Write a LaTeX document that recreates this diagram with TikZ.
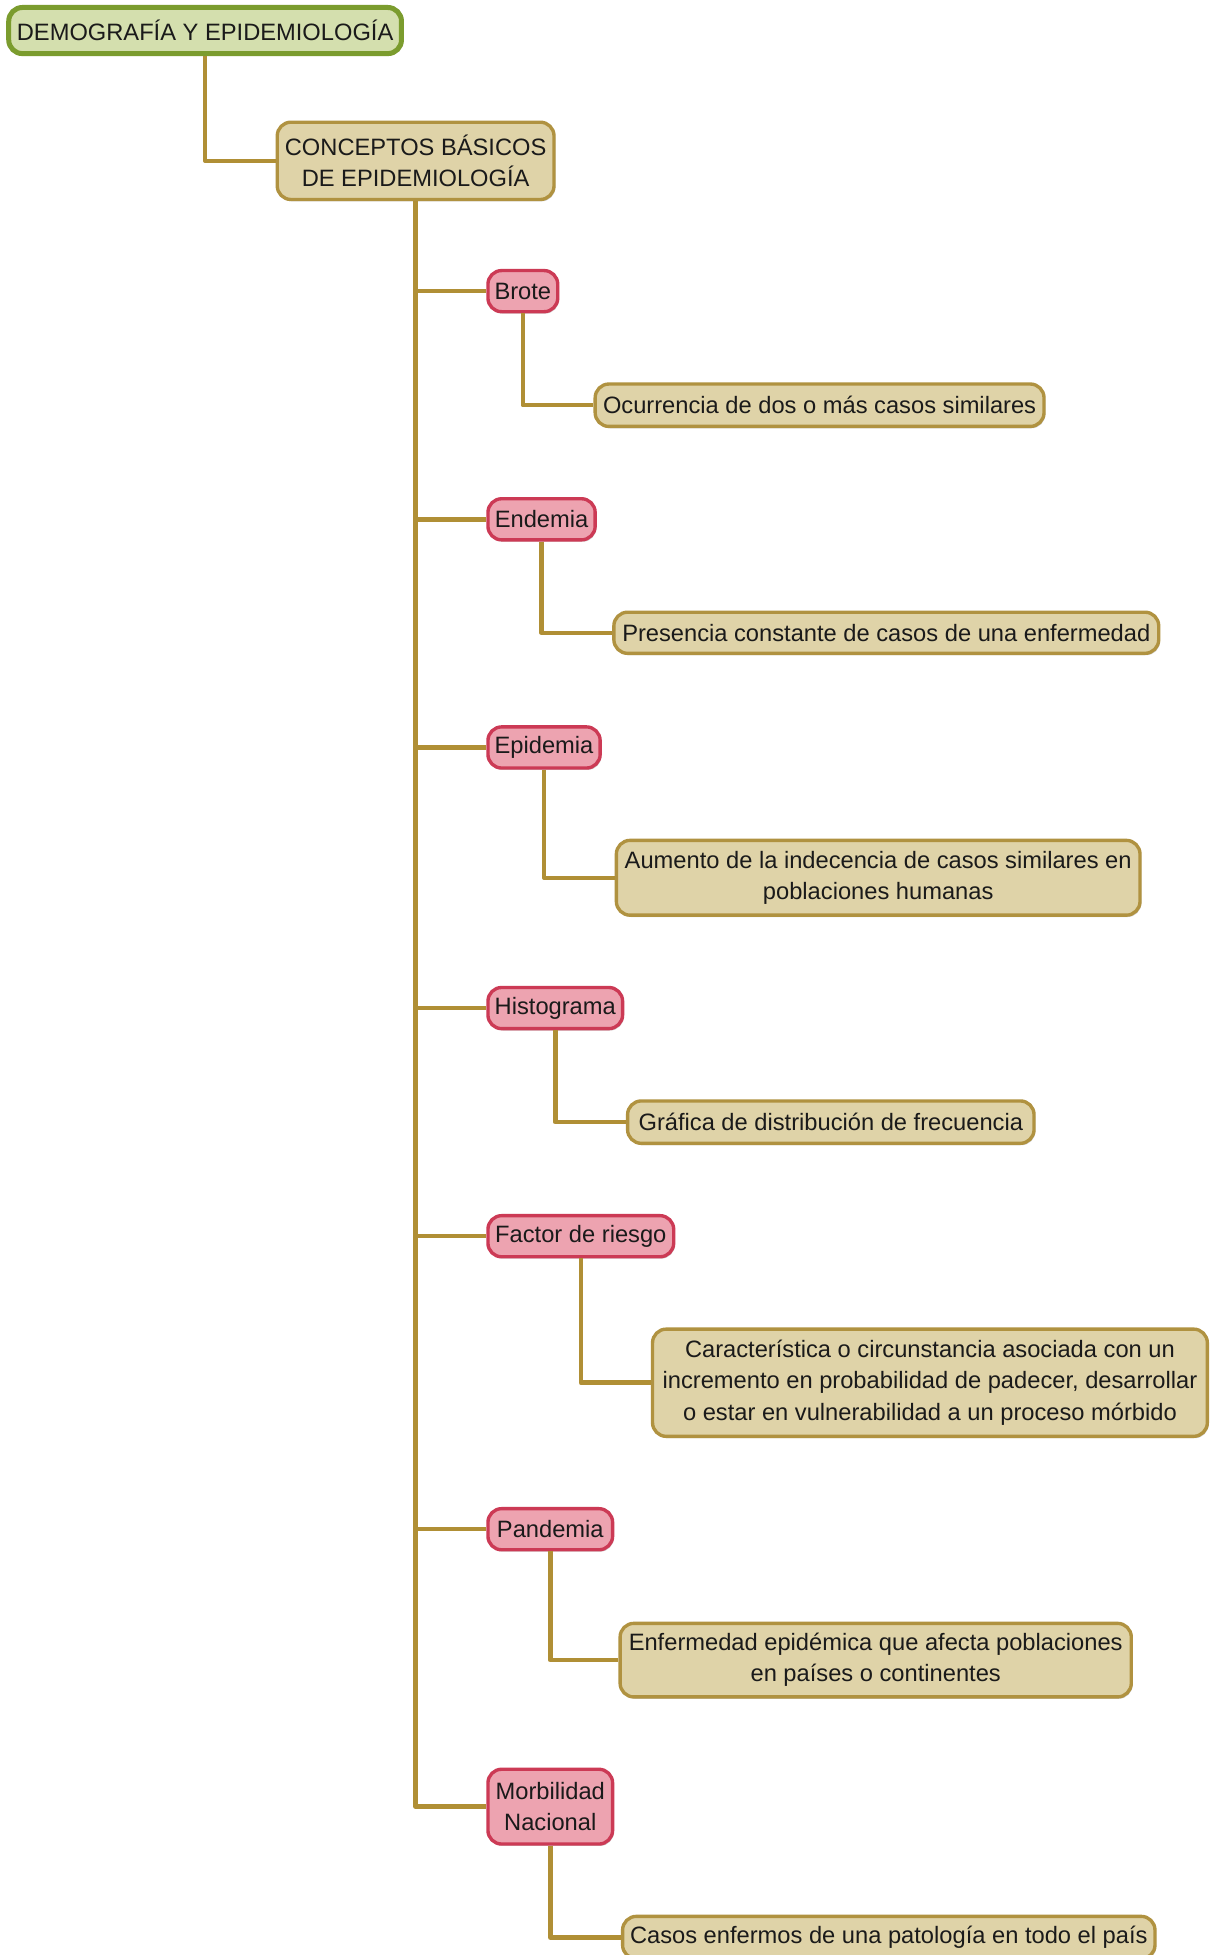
\documentclass[tikz,border=0pt]{standalone}
\usepackage{fontspec}
\setmainfont{Liberation Sans}
\usetikzlibrary{shadows}
\definecolor{rootfill}{HTML}{D4DFAE}
\definecolor{rootdraw}{HTML}{7B9C2E}
\definecolor{tanfill}{HTML}{DFD3A8}
\definecolor{tandraw}{HTML}{B09240}
\definecolor{pinkfill}{HTML}{EDA3B0}
\definecolor{pinkdraw}{HTML}{CC3A55}
\definecolor{conncol}{HTML}{B08F35}
\definecolor{txt}{HTML}{1A1A1A}
\begin{document}
\begin{tikzpicture}[x=1pt,y=-1pt,
  box/.style={rounded corners=11pt, line width=2.7pt, text=txt, align=center,
    inner xsep=2pt, inner ysep=2pt, anchor=west,
    font=\fontsize{19}{25}\selectfont,
    drop shadow={shadow xshift=1pt, shadow yshift=-1.5pt, opacity=0.18, fill=black}},
  rootbox/.style={box, fill=rootfill, draw=rootdraw, line width=4pt},
  tanbox/.style={box, fill=tanfill, draw=tandraw},
  pinkbox/.style={box, fill=pinkfill, draw=pinkdraw, minimum height=33pt},
  conn/.style={draw=conncol, line width=3.6pt, line join=round}]
\useasboundingbox (0,0) rectangle (973,1568);
\fill[white] (0,0) rectangle (973,1568);

% connectors (drawn first, boxes on top)
\coordinate (rootS) at (162.5,43);
\coordinate (concS) at (332,160);
\coordinate (concW) at (221,129);

% nodes
\node[rootbox, minimum width=315pt, minimum height=37pt] (root) at (5,24.5) {DEMOGRAFÍA Y EPIDEMIOLOGÍA};
\node[tanbox, minimum width=222pt, minimum height=62pt] (conc) at (221,129) {CONCEPTOS BÁSICOS\\DE EPIDEMIOLOGÍA};

\node[pinkbox, minimum width=56pt] (brote) at (390,233.5) {Brote};
\node[pinkbox, minimum width=86pt] (endem) at (390,416.5) {Endemia};
\node[pinkbox, minimum width=90pt] (epid) at (390,599.5) {Epidemia};
\node[pinkbox, minimum width=108pt] (hist) at (390,808.5) {Histograma};
\node[pinkbox, minimum width=149pt] (fact) at (390,991.5) {Factor de riesgo};
\node[pinkbox, minimum width=100pt] (pand) at (390,1226.5) {Pandemia};
\node[pinkbox, minimum width=100pt, minimum height=60pt] (morb) at (390,1449) {Morbilidad\\Nacional};

\node[tanbox, minimum width=360pt, minimum height=34pt] (c1) at (476,325) {Ocurrencia de dos o más casos similares};
\node[tanbox, minimum width=437pt, minimum height=33pt] (c2) at (491,507.5) {Presencia constante de casos de una enfermedad};
\node[tanbox, minimum width=420pt, minimum height=60pt] (c3) at (493,704) {Aumento de la indecencia de casos similares en\\poblaciones humanas};
\node[tanbox, minimum width=326pt, minimum height=34pt] (c4) at (502,900) {Gráfica de distribución de frecuencia};
\node[tanbox, minimum width=445pt, minimum height=86pt] (c5) at (522,1109) {Característica o circunstancia asociada con un\\incremento en probabilidad de padecer, desarrollar\\o estar en vulnerabilidad a un proceso mórbido};
\node[tanbox, minimum width=410pt, minimum height=59pt] (c6) at (496,1331.5) {Enfermedad epidémica que afecta poblaciones\\en países o continentes};
\node[tanbox, minimum width=427pt, minimum height=34pt] (c7) at (498,1554) {Casos enfermos de una patología en todo el país};

\draw[conn] (root.south) |- (conc.west);
\draw[conn] (conc.south) |- (morb.west);
\foreach \n in {brote,endem,epid,hist,fact,pand}{
  \draw[conn] (\n.west) -| (conc.south);
}
\draw[conn] (brote.south) |- (c1.west);
\draw[conn] (endem.south) |- (c2.west);
\draw[conn] (epid.south) |- (c3.west);
\draw[conn] (hist.south) |- (c4.west);
\draw[conn] (fact.south) |- (c5.west);
\draw[conn] (pand.south) |- (c6.west);
\draw[conn] (morb.south) |- (c7.west);
\end{tikzpicture}
\end{document}
